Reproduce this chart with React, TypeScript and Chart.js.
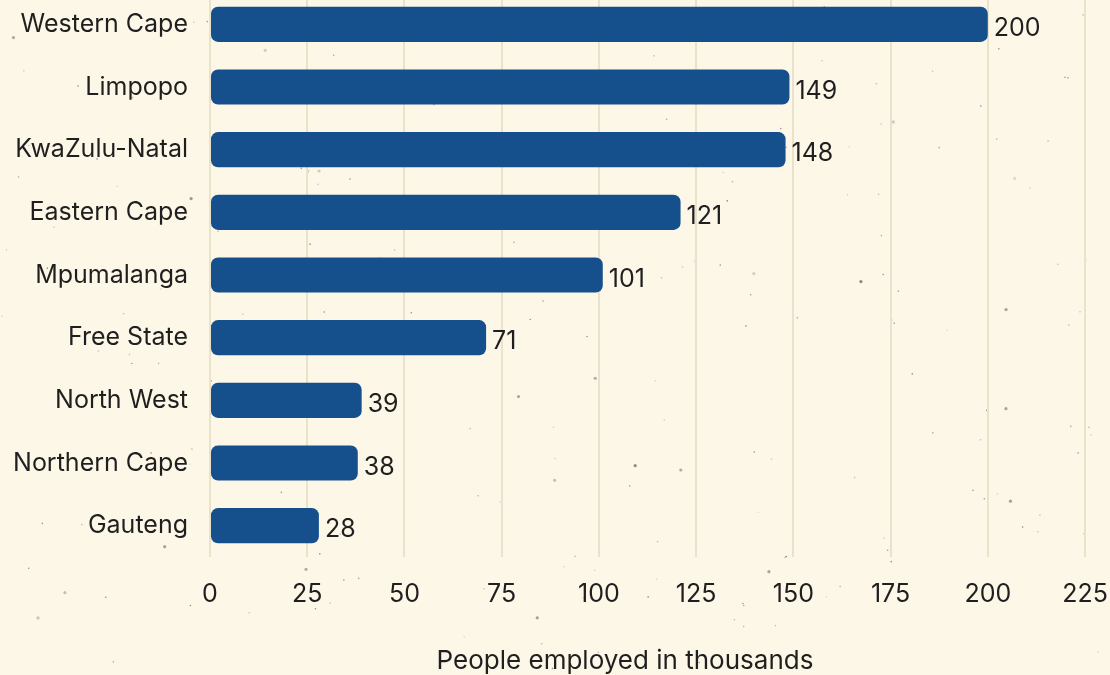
import React, { useEffect, useRef } from "react";
import { Chart, registerables } from "chart.js";

Chart.register(...registerables);

const categories = [
  "Western Cape",
  "Limpopo",
  "KwaZulu-Natal",
  "Eastern Cape",
  "Mpumalanga",
  "Free State",
  "North West",
  "Northern Cape",
  "Gauteng",
];
const employed = [200, 149, 148, 121, 101, 71, 39, 38, 28];
const axisTitle = "People employed in thousands";

const FONT = "Inter, 'Noto Sans', sans-serif";
const BG = "#fdf7e8";
const BAR = "#15508c";
const TEXT = "#1f1f1f";

const backgroundPlugin = {
  id: "bgSpeckle",
  beforeDraw(chart: any) {
    const { ctx, width, height } = chart;
    ctx.save();
    ctx.fillStyle = BG;
    ctx.fillRect(0, 0, width, height);
    let s = 12345;
    const rnd = () => {
      s = (s * 1103515245 + 12345) & 0x7fffffff;
      return s / 0x7fffffff;
    };
    for (let i = 0; i < 220; i++) {
      const x = rnd() * width;
      const y = rnd() * height;
      const r = rnd() < 0.12 ? 1.6 : 0.8;
      const a = 0.15 + rnd() * 0.45;
      ctx.fillStyle = `rgba(60,60,60,${a})`;
      ctx.beginPath();
      ctx.arc(x, y, r, 0, Math.PI * 2);
      ctx.fill();
    }
    ctx.restore();
  },
};

const valueLabelPlugin = {
  id: "valueLabels",
  afterDatasetsDraw(chart: any) {
    const { ctx } = chart;
    const meta = chart.getDatasetMeta(0);
    ctx.save();
    ctx.font = `25px ${FONT}`;
    ctx.fillStyle = TEXT;
    ctx.textAlign = "left";
    ctx.textBaseline = "middle";
    meta.data.forEach((bar: any, i: number) => {
      ctx.fillText(String(employed[i]), bar.x + 6, bar.y + 4);
    });
    // axis title
    ctx.font = `26px ${FONT}`;
    ctx.textAlign = "center";
    ctx.fillText(axisTitle, 625, chart.height - 14);
    ctx.restore();
  },
};

export default function App() {
  const ref = useRef<HTMLCanvasElement>(null);
  useEffect(() => {
    document.body.style.margin = "0";
    document.body.style.background = BG;
    const chart = new Chart(ref.current as HTMLCanvasElement, {
      type: "bar",
      data: {
        labels: categories,
        datasets: [
          {
            data: employed,
            backgroundColor: BAR,
            borderRadius: 7,
            borderSkipped: false,
            barPercentage: 0.56,
            categoryPercentage: 1,
          },
        ],
      },
      options: {
        indexAxis: "y",
        animation: false,
        responsive: true,
        maintainAspectRatio: false,
        layout: { padding: { top: 0, right: 25, left: 0, bottom: 0 } },
        plugins: {
          legend: { display: false },
          tooltip: { enabled: false },
        },
        scales: {
          x: {
            min: 0,
            max: 225,
            ticks: {
              stepSize: 25,
              color: TEXT,
              font: { family: FONT, size: 25 },
              padding: 22,
            },
            grid: { color: "#ebe2cc", lineWidth: 2, drawTicks: false },
            border: { display: false },
            afterFit(scale: any) {
              scale.height = 118;
              scale.paddingLeft = 0;
              scale.paddingRight = 0;
            },
          },
          y: {
            ticks: {
              color: TEXT,
              font: { family: FONT, size: 25 },
              padding: 22,
            },
            grid: { display: false, drawTicks: false },
            border: { display: false },
            afterFit(scale: any) {
              scale.width = 210;
              scale.paddingTop = 0;
              scale.paddingBottom = 0;
            },
          },
        },
      },
      plugins: [backgroundPlugin, valueLabelPlugin],
    });
    return () => chart.destroy();
  }, []);
  return (
    <div style={{ position: "absolute", left: 0, top: -7, width: 1110, height: 682 }}>
      <canvas ref={ref} />
    </div>
  );
}
